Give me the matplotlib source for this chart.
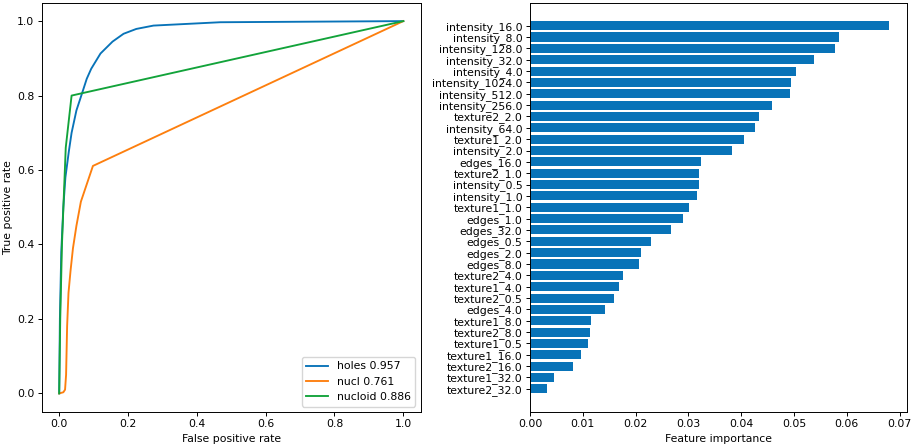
import matplotlib
matplotlib.use("Agg")
import matplotlib.pyplot as plt

# ROC data
holes_fpr = [0, 0.002, 0.006, 0.012, 0.018, 0.028, 0.036, 0.05, 0.066, 0.08, 0.093, 0.12, 0.155, 0.187, 0.224, 0.274, 0.468, 1.0]
holes_tpr = [0, 0.2, 0.38, 0.5, 0.58, 0.65, 0.7, 0.76, 0.805, 0.845, 0.872, 0.913, 0.945, 0.966, 0.979, 0.988, 0.997, 1.0]
nucl_fpr = [0, 0.012, 0.017, 0.02, 0.023, 0.027, 0.033, 0.04, 0.05, 0.063, 0.098, 1.0]
nucl_tpr = [0, 0.003, 0.01, 0.05, 0.18, 0.27, 0.33, 0.39, 0.45, 0.515, 0.611, 1.0]
nucloid_fpr = [0, 0.003, 0.008, 0.013, 0.019, 0.036, 1.0]
nucloid_tpr = [0, 0.2, 0.4, 0.52, 0.66, 0.8, 1.0]
roc_labels = ["holes 0.957", "nucl 0.761", "nucloid 0.886"]

# Feature importance data (top to bottom)
features = ["intensity_16.0", "intensity_8.0", "intensity_128.0", "intensity_32.0",
            "intensity_4.0", "intensity_1024.0", "intensity_512.0", "intensity_256.0",
            "texture2_2.0", "intensity_64.0", "texture1_2.0", "intensity_2.0",
            "edges_16.0", "texture2_1.0", "intensity_0.5", "intensity_1.0",
            "texture1_1.0", "edges_1.0", "edges_32.0", "edges_0.5", "edges_2.0",
            "edges_8.0", "texture2_4.0", "texture1_4.0", "texture2_0.5", "edges_4.0",
            "texture1_8.0", "texture2_8.0", "texture1_0.5", "texture1_16.0",
            "texture2_16.0", "texture1_32.0", "texture2_32.0"]
importance = [0.0680, 0.0585, 0.0578, 0.0538, 0.0504, 0.0494, 0.0492, 0.0459,
              0.0433, 0.0427, 0.0406, 0.0383, 0.0323, 0.0320, 0.0320, 0.0316,
              0.0301, 0.0290, 0.0267, 0.0229, 0.0211, 0.0207, 0.0177, 0.0168,
              0.0159, 0.0143, 0.0115, 0.0113, 0.0109, 0.0097, 0.0081, 0.0046, 0.0032]

plt.rcParams.update({
    "font.family": "DejaVu Sans",
    "font.size": 7.8,
    "axes.linewidth": 0.7,
    "xtick.major.size": 2.8,
    "ytick.major.size": 2.8,
    "xtick.major.width": 0.7,
    "ytick.major.width": 0.7,
    "xtick.major.pad": 2.6,
    "ytick.major.pad": 2.6,
    "axes.labelpad": 3,
    "lines.linewidth": 1.35,
})

blue = "#0873b8"
orange = "#fd7f0e"
green = "#12a33a"

fig = plt.figure(figsize=(9.13, 4.47), dpi=100)
ax1 = fig.add_axes([0.046, 0.0783, 0.4146, 0.9161])
ax2 = fig.add_axes([0.5805, 0.0783, 0.4129, 0.9161])

ax1.plot(holes_fpr, holes_tpr, color=blue, label=roc_labels[0])
ax1.plot(nucl_fpr, nucl_tpr, color=orange, label=roc_labels[1])
ax1.plot(nucloid_fpr, nucloid_tpr, color=green, label=roc_labels[2])
ax1.set_xlabel("False positive rate")
ax1.set_ylabel("True positive rate")
ax1.legend(loc="lower right")

ax2.barh(features, importance, color=blue)
ax2.invert_yaxis()
ax2.set_xlabel("Feature importance")

fig.savefig("out.png", dpi=100)
